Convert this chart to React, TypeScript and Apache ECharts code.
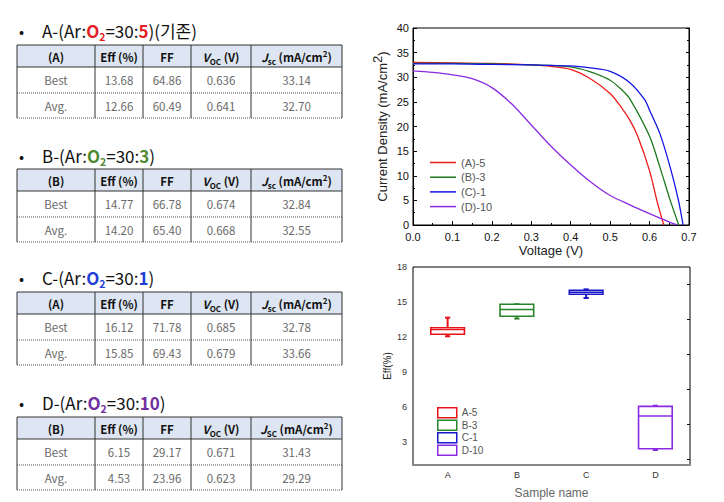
import React, { useEffect, useRef } from 'react';
import * as echarts from 'echarts';

// ---------- J-V curve data ----------
const jvNames = ['(A)-5', '(B)-3', '(C)-1', '(D)-10'];
const voltageA = [0, 0.1, 0.2, 0.3, 0.35, 0.4, 0.45, 0.5, 0.53, 0.55, 0.57, 0.6, 0.62, 0.636];
const currentA = [33.0, 32.9, 32.8, 32.5, 32.2, 31.6, 29.7, 26.7, 23.7, 21.3, 18.0, 11.0, 4.5, 0];
const voltageB = [0, 0.1, 0.2, 0.3, 0.35, 0.4, 0.45, 0.5, 0.53, 0.55, 0.6, 0.626, 0.652, 0.674];
const currentB = [32.8, 32.8, 32.7, 32.5, 32.4, 32.1, 31.1, 29.4, 27.4, 25.6, 18.0, 11.8, 5.1, 0];
const voltageC = [0, 0.1, 0.2, 0.3, 0.4, 0.45, 0.5, 0.55, 0.588, 0.6, 0.626, 0.652, 0.673, 0.685];
const currentC = [32.7, 32.7, 32.6, 32.5, 32.3, 31.9, 31.2, 28.9, 25.4, 23.3, 18.6, 11.8, 5.1, 0];
const voltageD = [0, 0.05, 0.1, 0.15, 0.2, 0.25, 0.3, 0.35, 0.4, 0.45, 0.5, 0.55, 0.6, 0.626, 0.65, 0.671];
const currentD = [31.3, 31.0, 30.5, 29.7, 27.9, 24.6, 20.3, 16.0, 12.2, 8.8, 6.0, 4.1, 2.3, 1.4, 0.6, 0];
const jvVoltages = [voltageA, voltageB, voltageC, voltageD];
const jvCurrents = [currentA, currentB, currentC, currentD];
const jvColors = ['#ee1a1a', '#1c7a1c', '#1414e6', '#8a2be2'];

// ---------- box plot data: [min, q1, median, q3, max] ----------
const boxCategories = ['A', 'B', 'C', 'D'];
const boxNames = ['A-5', 'B-3', 'C-1', 'D-10'];
const boxStats = [
  [12.05, 12.22, 12.62, 12.79, 13.65],
  [13.57, 13.77, 14.35, 14.8, 14.8],
  [15.34, 15.66, 15.83, 16.0, 16.08],
  [2.29, 2.4, 5.21, 6.03, 6.09],
];
const boxColors = ['#e8141c', '#2a842a', '#1818c8', '#8a2be2'];
const effMajorTicks = [3, 6, 9, 12, 15, 18];
const effMinorTicks = [1.5, 4.5, 7.5, 10.5, 13.5, 16.5];

// ---------- tables ----------
const tableKeys = ['(A)', '(B)', '(A)', '(B)'];
const headingLetters = ['A', 'B', 'C', 'D'];
const headingRatios = ['5', '3', '1', '10'];
const headingSuffix = ['(기존)', '', '', ''];
const headingColors = ['#e31e24', '#4f8a30', '#1f3fd6', '#7030a0'];
const jscSub = ['sc', 'sc', 'sc', 'SC'];
const rowLabels = ['Best', 'Avg.'];
const effValues = [[13.68, 12.66], [14.77, 14.2], [16.12, 15.85], [6.15, 4.53]];
const ffValues = [[64.86, 60.49], [66.78, 65.4], [71.78, 69.43], [29.17, 23.96]];
const vocValues = [[0.636, 0.641], [0.674, 0.668], [0.685, 0.679], [0.671, 0.623]];
const jscValues = [[33.14, 32.7], [32.84, 32.55], [32.78, 33.66], [31.43, 29.29]];

const KR = '"Noto Sans CJK KR", "Noto Sans", sans-serif';
const SANS = '"Liberation Sans", Arial, sans-serif';

function buildTables(): any[] {
  const els: any[] = [];
  const tops = [45, 169, 292, 417];
  const heads = [30, 155, 277, 402];
  const colX = [17, 95, 143, 191, 251, 342];
  const rowY = [0, 22, 48, 73];
  for (let t = 0; t < 4; t++) {
    const top = tops[t];
    const hy = heads[t];
    const c = headingColors[t];
    els.push({
      type: 'text', x: 19, y: hy,
      style: { text: '•', fontSize: 15, fontFamily: KR, fill: '#111', verticalAlign: 'middle' },
    });
    els.push({
      type: 'text', x: 42, y: hy,
      style: {
        text: `{n|${headingLetters[t]}-(Ar:}{o|O}{s|2}{n|=30:}{o|${headingRatios[t]}}{n|)${headingSuffix[t]}}`,
        verticalAlign: 'middle',
        rich: {
          n: { fontSize: 17, fontFamily: KR, fill: '#111', lineHeight: 23, verticalAlign: 'middle' },
          o: { fontSize: 17, fontFamily: KR, fill: c, fontWeight: 'bold', lineHeight: 23, verticalAlign: 'middle' },
          s: { fontSize: 10.5, fontFamily: KR, fill: c, fontWeight: 'bold', lineHeight: 9, verticalAlign: 'bottom' },
        },
      },
    });
    els.push({
      type: 'rect', shape: { x: colX[0], y: top, width: colX[5] - colX[0], height: rowY[1] },
      style: { fill: '#dce5f1', stroke: 'none' },
    });
    for (let r = 0; r < rowY.length; r++) {
      const dotted = r >= 2;
      els.push({
        type: 'line', shape: { x1: colX[0], y1: top + rowY[r], x2: colX[5], y2: top + rowY[r] },
        style: { stroke: dotted ? '#555' : '#333', lineWidth: 1, lineDash: dotted ? [1, 1] : null },
      });
    }
    for (let k = 0; k < colX.length; k++) {
      els.push({
        type: 'line', shape: { x1: colX[k], y1: top, x2: colX[k], y2: top + rowY[3] },
        style: { stroke: '#333', lineWidth: 1 },
      });
    }
    const centers = colX.slice(0, 5).map((x, k) => (x + colX[k + 1]) / 2);
    const hb = { fontSize: 11.5, fontFamily: KR, fontWeight: 'bold', fill: '#111' };
    const headers = [
      `{h|${tableKeys[t]}}`,
      '{h|Eff (%)}',
      '{h|FF}',
      '{i|V}{s|OC}{h| (V)}',
      `{i|J}{s|${jscSub[t]}}{h| (mA/cm}{p|2}{h|)}`,
    ];
    headers.forEach((h, k) => {
      els.push({
        type: 'text', x: centers[k], y: top + rowY[1] / 2 + 1,
        style: {
          text: h, align: 'center', verticalAlign: 'middle',
          rich: {
            h: { ...hb, lineHeight: 16, verticalAlign: 'middle' },
            i: { ...hb, fontStyle: 'italic', lineHeight: 16, verticalAlign: 'middle' },
            s: { ...hb, fontSize: 8, lineHeight: 9, verticalAlign: 'bottom' },
            p: { ...hb, fontSize: 8, lineHeight: 9, verticalAlign: 'top' },
          },
        },
      });
    });
    for (let r = 0; r < 2; r++) {
      const cells = [
        rowLabels[r],
        effValues[t][r].toFixed(2),
        ffValues[t][r].toFixed(2),
        vocValues[t][r].toFixed(3),
        jscValues[t][r].toFixed(2),
      ];
      const cy = top + (rowY[r + 1] + rowY[r + 2]) / 2;
      cells.forEach((txt, k) => {
        els.push({
          type: 'text', x: centers[k], y: cy,
          style: { text: txt, align: 'center', verticalAlign: 'middle', fontSize: 11.5, fontFamily: KR, fill: '#6a6a6a' },
        });
      });
    }
  }
  return els;
}

export default function App() {
  const ref = useRef<HTMLDivElement>(null);
  useEffect(() => {
    if (!ref.current) return;
    const chart = echarts.init(ref.current, null, { renderer: 'svg' });
    const jvSeries = jvNames.map((name, i) => ({
      type: 'line',
      name,
      xAxisIndex: 0,
      yAxisIndex: 0,
      data: jvVoltages[i].map((v, k) => [v, jvCurrents[i][k]]),
      showSymbol: false,
      smooth: 0.3,
      lineStyle: { color: jvColors[i], width: 1.3 },
      itemStyle: { color: jvColors[i] },
    }));
    const boxSeries = boxNames.map((name, i) => ({
      type: 'custom',
      name,
      xAxisIndex: 1,
      yAxisIndex: 2,
      itemStyle: { color: boxColors[i] },
      encode: { x: 0, y: [1, 2, 3, 4, 5] },
      data: [[i, ...boxStats[i]]],
      renderItem: (params: any, api: any) => {
        const cat = api.value(0);
        const lo = api.coord([cat, api.value(1)]);
        const q1 = api.coord([cat, api.value(2)]);
        const md = api.coord([cat, api.value(3)]);
        const q3 = api.coord([cat, api.value(4)]);
        const hi = api.coord([cat, api.value(5)]);
        const band = api.size([1, 0])[0];
        const half = band * 0.243;
        const cap = 2.6;
        const color = boxColors[i];
        const x = lo[0];
        const ls = { stroke: color, lineWidth: 2 };
        return {
          type: 'group',
          children: [
            { type: 'line', shape: { x1: x, y1: lo[1], x2: x, y2: q1[1] }, style: ls },
            { type: 'line', shape: { x1: x, y1: q3[1], x2: x, y2: hi[1] }, style: ls },
            { type: 'line', shape: { x1: x - cap, y1: lo[1], x2: x + cap, y2: lo[1] }, style: ls },
            { type: 'line', shape: { x1: x - cap, y1: hi[1], x2: x + cap, y2: hi[1] }, style: ls },
            {
              type: 'rect',
              shape: { x: x - half, y: q3[1], width: half * 2, height: q1[1] - q3[1] },
              style: { fill: '#fff', stroke: color, lineWidth: 1.6 },
            },
            { type: 'line', shape: { x1: x - half, y1: md[1], x2: x + half, y2: md[1] }, style: { stroke: color, lineWidth: 1.4 } },
          ],
        };
      },
    }));
    chart.setOption({
      animation: false,
      backgroundColor: '#fff',
      grid: [
        { left: 413, top: 28, width: 276, height: 197, show: true, borderColor: '#000', borderWidth: 1 },
        { left: 413, top: 267, width: 277, height: 198, show: true, borderColor: '#000', borderWidth: 1 },
      ],
      legend: [
        {
          data: jvNames.map((n) => ({ name: n, icon: 'rect' })),
          orient: 'vertical', left: 425, top: 151,
          itemWidth: 26, itemHeight: 1.5, itemGap: 1.7,
          textStyle: { fontSize: 11, color: '#555', fontFamily: SANS, lineHeight: 13 },
        },
        {
          data: boxNames.map((n, i) => ({
            name: n, icon: 'rect',
            itemStyle: { color: '#fff', borderColor: boxColors[i], borderWidth: 1.5 },
          })),
          orient: 'vertical', left: 432, top: 402,
          itemWidth: 19, itemHeight: 10, itemGap: 1,
          textStyle: { fontSize: 10, color: '#555', fontFamily: SANS, lineHeight: 10 },
        },
      ],
      xAxis: [
        {
          type: 'value', gridIndex: 0, min: 0, max: 0.7, interval: 0.1,
          name: 'Voltage (V)', nameLocation: 'middle', nameGap: 19,
          nameTextStyle: { fontSize: 13, color: '#222', fontFamily: SANS },
          axisLine: { lineStyle: { color: '#000' } },
          axisTick: { inside: true, length: 4, lineStyle: { color: '#000' } },
          minorTick: { show: true, splitNumber: 2, length: 2, lineStyle: { color: '#000' } },
          axisLabel: { fontSize: 11, color: '#111', margin: 6, fontFamily: SANS, formatter: (v: number) => v.toFixed(1) },
          splitLine: { show: false },
        },
        {
          type: 'category', gridIndex: 1, data: boxCategories,
          name: 'Sample name', nameLocation: 'middle', nameGap: 22,
          nameTextStyle: { fontSize: 12, color: '#666', fontFamily: SANS },
          axisLine: { lineStyle: { color: '#888', width: 2 } },
          axisTick: { alignWithLabel: true, inside: true, length: 4, lineStyle: { color: '#111' } },
          axisLabel: { fontSize: 9, color: '#333', margin: 5, fontFamily: SANS },
          splitLine: { show: false },
        },
      ],
      yAxis: [
        {
          type: 'value', gridIndex: 0, min: 0, max: 40, interval: 5,
          name: '{t|Current Density (mA/cm}{p|2}{t|)}', nameLocation: 'middle', nameGap: 24,
          nameTextStyle: {
            rich: {
              t: { fontSize: 13, color: '#222', fontFamily: SANS, lineHeight: 18, verticalAlign: 'bottom' },
              p: { fontSize: 13, color: '#222', fontFamily: SANS, lineHeight: 18, verticalAlign: 'top', padding: [0, 0, 6, 0] },
            },
          },
          axisLine: { lineStyle: { color: '#000' } },
          axisTick: { inside: true, length: 4, lineStyle: { color: '#000' } },
          minorTick: { show: true, splitNumber: 2, length: 2, lineStyle: { color: '#000' } },
          axisLabel: { fontSize: 11, color: '#111', margin: 4, fontFamily: SANS },
          splitLine: { show: false },
        },
        {
          type: 'value', gridIndex: 0, min: 0, max: 40, interval: 5, position: 'right',
          axisLine: { show: true, lineStyle: { color: '#000' } },
          axisTick: { show: true, inside: true, length: 3, lineStyle: { color: '#000' } },
          minorTick: { show: true, splitNumber: 2, length: 2, lineStyle: { color: '#000' } },
          axisLabel: { show: false },
          splitLine: { show: false },
        },
        {
          type: 'value', gridIndex: 1, min: 1, max: 18,
          name: 'Eff(%)', nameLocation: 'middle', nameGap: 21,
          nameTextStyle: { fontSize: 10, color: '#222', fontFamily: SANS },
          axisLine: { lineStyle: { color: '#000', width: 1.2 } },
          axisTick: { customValues: effMajorTicks, length: 4, lineStyle: { color: '#111' } },
          axisLabel: { customValues: effMajorTicks, fontSize: 9, color: '#333', margin: 6, fontFamily: SANS },
          splitLine: { show: false },
        },
        {
          type: 'value', gridIndex: 1, min: 1, max: 18,
          axisLine: { show: false },
          axisTick: { show: true, customValues: effMinorTicks, inside: true, length: 3, lineStyle: { color: '#111' } },
          axisLabel: { show: false, customValues: effMinorTicks },
          splitLine: { show: false },
        },
      ],
      graphic: buildTables(),
      series: [...jvSeries, ...boxSeries],
    });
    return () => chart.dispose();
  }, []);
  return (
    <div
      ref={ref}
      style={{ position: 'fixed', left: 0, top: 0, width: 724, height: 502, background: '#fff' }}
    />
  );
}
